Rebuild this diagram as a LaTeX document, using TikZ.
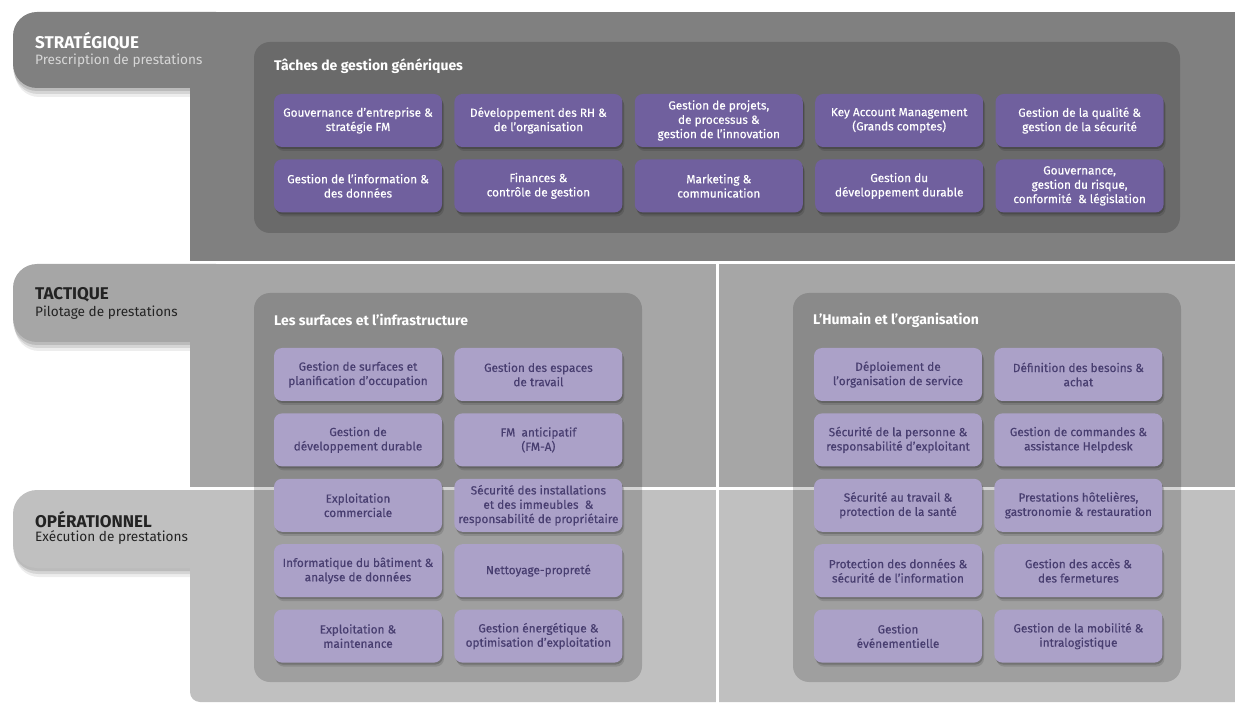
\documentclass[tikz,border=0pt]{standalone}
\usepackage{fontspec}
\setmainfont{Fira Sans}
\newfontfamily\boxfont{Fira Sans}[FakeBold=0.4]
\usetikzlibrary{positioning,shadows}
\definecolor{stratgray}{RGB}{128,128,128}
\definecolor{tactgray}{RGB}{166,166,166}
\definecolor{opgray}{RGB}{192,192,192}
\definecolor{stratsub}{RGB}{215,215,215}
\definecolor{darkink}{RGB}{35,35,35}
\definecolor{taskviolet}{RGB}{112,96,158}
\definecolor{liteviolet}{RGB}{171,161,200}
\definecolor{liteink}{RGB}{72,62,112}

\begin{document}
\begin{tikzpicture}[x=1pt,y=-1pt,
            node distance=12pt and 12pt,
            tabshape/.style={rounded corners=24pt,
                drop shadow={shadow xshift=0pt, shadow yshift=-3pt, opacity=0.12, fill=black},
                drop shadow={shadow xshift=1pt, shadow yshift=-6pt, opacity=0.10, fill=black},
                drop shadow={shadow xshift=2pt, shadow yshift=-9pt, opacity=0.07, fill=black}},
            panel/.style={fill=black, fill opacity=0.17, rounded corners=16pt},
            heading/.style={anchor=west, inner sep=0pt, text=white, font=\bfseries\fontsize{14}{17}\selectfont},
            levelname/.style={anchor=west, inner sep=0pt, font=\bfseries\fontsize{17}{20}\selectfont},
            levelsub/.style={anchor=west, inner sep=0pt, font=\fontsize{13.6}{16}\selectfont},
            taskbox/.style={rectangle, rounded corners=8pt, fill=taskviolet, text=white, minimum width=168pt, minimum height=53pt, inner sep=2pt, align=center, font=\boxfont\fontsize{11.8}{14.3}\selectfont,
                drop shadow={shadow xshift=1pt, shadow yshift=-2pt, opacity=0.18, fill=black},
                drop shadow={shadow xshift=2pt, shadow yshift=-4pt, opacity=0.12, fill=black}},
            litebox/.style={taskbox, fill=liteviolet, text=liteink},
        ]
        \useasboundingbox (0,0) rectangle (1235,703);

        % levels
        \path[fill=stratgray, tabshape] (13,12) rectangle (240,88);
        \fill[stratgray] (190,12) rectangle (1240,261);
        \path[fill=tactgray, tabshape] (13,264) rectangle (240,342);
        \fill[tactgray] (190,264) rectangle (1240,487);
        \path[fill=opgray, tabshape] (13,490) rectangle (240,568);
        \fill[opgray] (190,490) rectangle (1240,690);
        \fill[opgray, rounded corners=10pt] (190,600) rectangle (1250,702);
        \draw[white, line width=3pt] (717,262) -- (717,706);

        \node[levelname, text=white] (strat) at (35,42) {STRATÉGIQUE};
        \node[levelsub, text=stratsub] (stratsub) at (35,61) {Prescription de prestations};
        \node[levelname, text=darkink] (tact) at (35,295) {TACTIQUE};
        \node[levelsub, text=darkink] (tactsub) at (35,313) {Pilotage de prestations};
        \node[levelname, text=darkink] (oper) at (35,520) {OPÉRATIONNEL};
        \node[levelsub, text=darkink] (opersub) at (35,538) {Exécution de prestations};

        % panels
        \fill[panel] (254,42) rectangle (1180,233);
        \fill[panel] (254,293) rectangle (642,682);
        \fill[panel] (793,293) rectangle (1181,682);
        \node[heading] (generic) at (274,66) {Tâches de gestion génériques};
        \node[heading] (infra) at (274,320) {Les surfaces et l’infrastructure};
        \node[heading] (human) at (813,320) {L’Humain et l’organisation};

        % generic tasks
        \node[taskbox] (gouv) at (358,120.5) {Gouvernance d’entreprise \&\\stratégie FM};
        \node[taskbox] (rh) [right=of gouv] {Développement des RH \&\\de l’organisation};
        \node[taskbox] (proj) [right=of rh] {Gestion de projets,\\de processus \&\\gestion de l’innovation};
        \node[taskbox] (kam) [right=of proj] {Key Account Management\\(Grands comptes)};
        \node[taskbox] (qual) [right=of kam] {Gestion de la qualité \&\\gestion de la sécurité};
        \node[taskbox] (info) [below=of gouv] {Gestion de l’information \&\\des données};
        \node[taskbox] (fin) [below=of rh] {Finances \&\\contrôle de gestion};
        \node[taskbox] (mark) [below=of proj] {Marketing \&\\communication};
        \node[taskbox] (durable) [below=of kam] {Gestion du\\développement durable};
        \node[taskbox] (risk) [below=of qual] {Gouvernance,\\gestion du risque,\\conformité\ \ \& législation};

        % surfaces and infrastructure
        \node[litebox] (surf) at (358,374.5) {Gestion de surfaces et\\planification d’occupation};
        \node[litebox] (espaces) [right=of surf] {Gestion des espaces\\de travail};
        \node[litebox] (devdur) [below=of surf] {Gestion de\\développement durable};
        \node[litebox] (fma) [below=of espaces] {FM\ \ anticipatif\\(FM-A)};
        \node[litebox] (comm) [below=of devdur] {Exploitation\\commerciale};
        \node[litebox] (secinst) [below=of fma] {Sécurité des installations\\et des immeubles\ \ \&\\responsabilité de propriétaire};
        \node[litebox] (bat) [below=of comm] {Informatique du bâtiment \&\\analyse de données};
        \node[litebox] (nett) [below=of secinst] {Nettoyage-propreté};
        \node[litebox] (maint) [below=of bat] {Exploitation \&\\maintenance};
        \node[litebox] (energ) [below=of nett] {Gestion énergétique \&\\optimisation d’exploitation};

        % people and organisation
        \node[litebox] (deploi) at (898,374.5) {Déploiement de\\l’organisation de service};
        \node[litebox] (achat) [right=of deploi] {Définition des besoins \&\\achat};
        \node[litebox] (pers) [below=of deploi] {Sécurité de la personne \&\\responsabilité d’exploitant};
        \node[litebox] (help) [below=of achat] {Gestion de commandes \&\\assistance Helpdesk};
        \node[litebox] (sante) [below=of pers] {Sécurité au travail \&\\protection de la santé};
        \node[litebox] (hotel) [below=of help] {Prestations hôtelières,\\gastronomie \& restauration};
        \node[litebox] (donnees) [below=of sante] {Protection des données \&\\sécurité de l’information};
        \node[litebox] (acces) [below=of hotel] {Gestion des accès \&\\des fermetures};
        \node[litebox] (event) [below=of donnees] {Gestion\\événementielle};
        \node[litebox] (mobil) [below=of acces] {Gestion de la mobilité \&\\intralogistique};

    \end{tikzpicture}
\end{document}
